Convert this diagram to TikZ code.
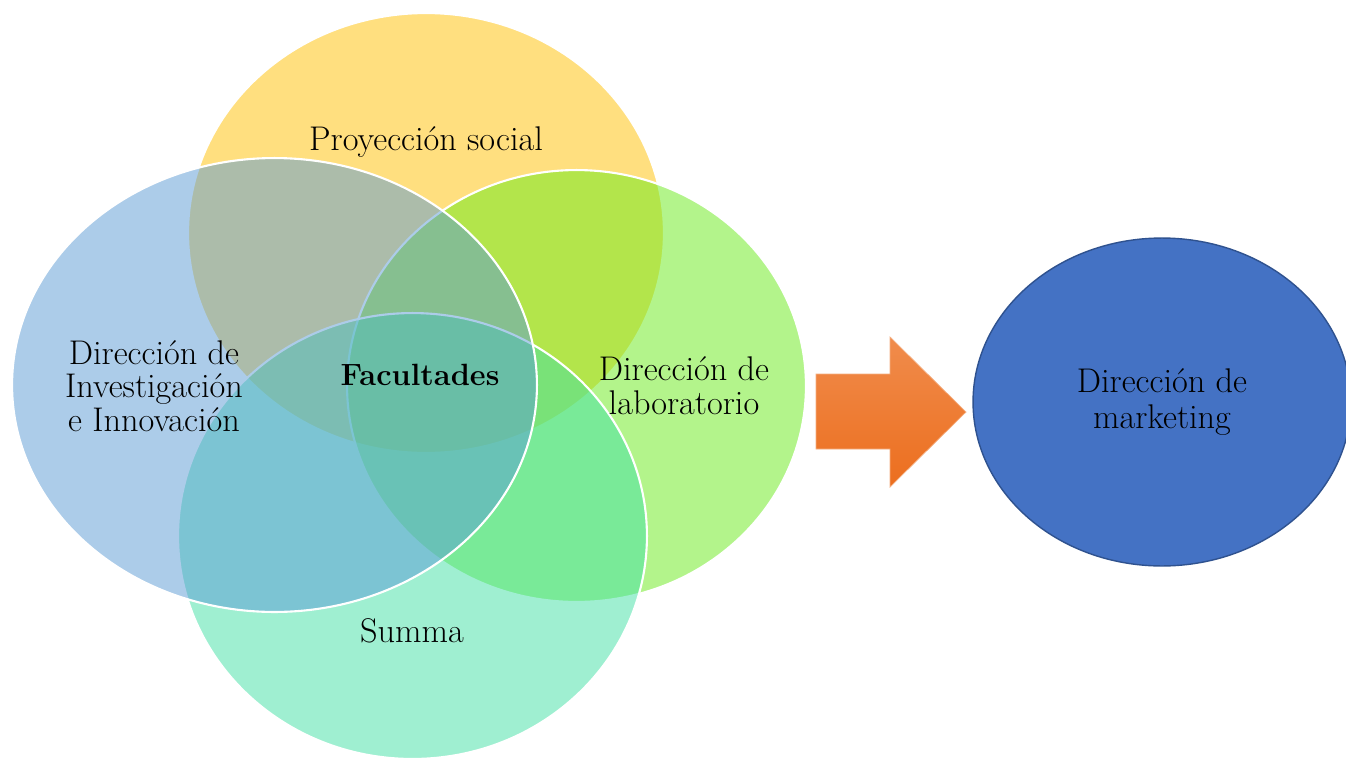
\documentclass[tikz,border=0pt]{standalone}
\usetikzlibrary{shapes.geometric}
\definecolor{proyYellow}{HTML}{FFC000}
\definecolor{invBlue}{HTML}{5B9BD5}
\definecolor{labGreen}{HTML}{69EB19}
\definecolor{summaTeal}{HTML}{41E1A5}
\definecolor{mktBlue}{HTML}{4472C4}
\definecolor{mktLine}{HTML}{2F528F}
\definecolor{arrowTop}{HTML}{F08C4C}
\definecolor{arrowBot}{HTML}{EC6E1E}
\begin{document}
\begin{tikzpicture}[x=0.02cm,y=-0.02cm,
    venn/.style={ellipse,draw=white,line width=1.2pt,fill opacity=0.5,inner sep=0pt,outer sep=0pt},
    lbl/.style={align=center,font=\fontsize{19.5}{19.2}\selectfont}]
    \clip (0,0) rectangle (1346,758);
    \fill[white] (0,0) rectangle (1346,758);
    %% the four areas
    \node[venn,fill=proyYellow,minimum width=9.52cm,minimum height=8.80cm] (proy) at (426,233) {};
    \node[venn,fill=labGreen,minimum width=9.18cm,minimum height=8.64cm] (lab) at (576.5,386) {};
    \node[venn,fill=summaTeal,minimum width=9.38cm,minimum height=8.92cm] (summa) at (412.5,536) {};
    \node[venn,fill=invBlue,minimum width=10.5cm,minimum height=9.08cm] (inv) at (274.5,385) {};
    %% labels
    \node[lbl] (proyText) at (426,142) {Proyección social};
    \node[lbl] (invText) at (154,386) {Dirección de\\Investigación\\e Innovación};
    \node[lbl] (labText) at (684,386) {Dirección de\\laboratorio};
    \node[lbl] (summaText) at (412,631) {Summa};
    \node[lbl,font=\fontsize{17.5}{19.2}\selectfont\bfseries] (fac) at (420,375) {Facultades};
    %% arrow
    \draw[draw=arrowTop!70!white,top color=arrowTop,bottom color=arrowBot,line width=0.4pt]
        (816,374) -- (890,374) -- (890,337) -- (966,412) -- (890,487) -- (890,449) -- (816,449) -- cycle;
    %% marketing
    \node[ellipse,draw=mktLine,fill=mktBlue,line width=0.8pt,inner sep=0pt,
        minimum width=7.56cm,minimum height=6.56cm,lbl,font=\fontsize{19.5}{20.5}\selectfont] (mkt) at (1162,402) {Dirección de\\marketing};
\end{tikzpicture}
\end{document}
